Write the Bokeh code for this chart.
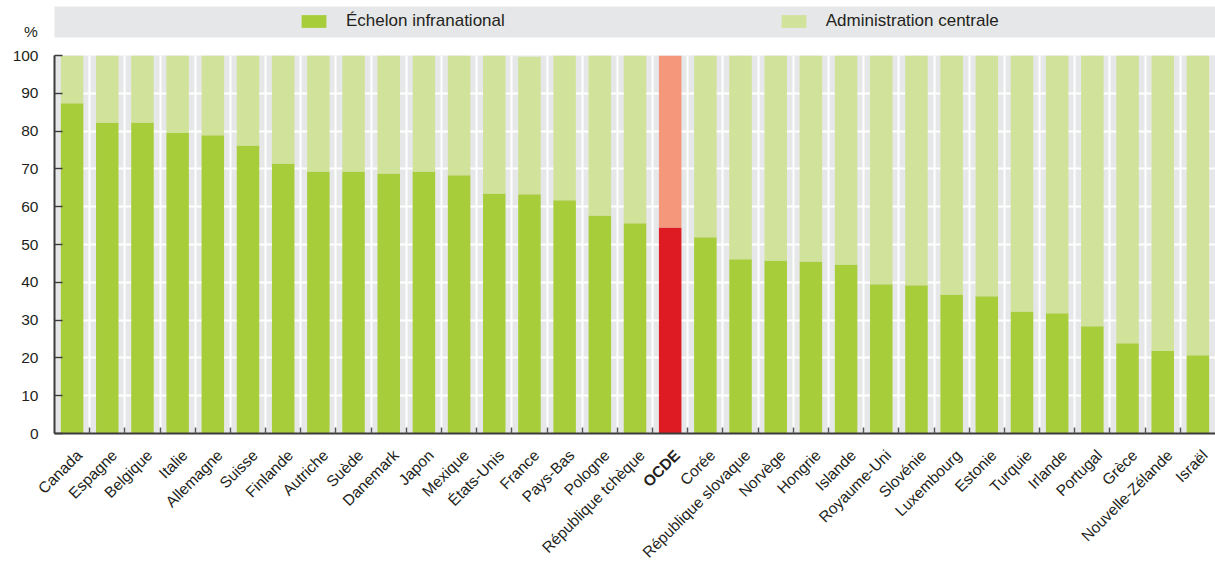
import numpy as np
from bokeh.plotting import figure
from bokeh.models import (Range1d, FixedTicker, ColumnDataSource, Legend, LegendItem)
from bokeh.layouts import column
from bokeh.core.properties import value
from bokeh.embed import file_html
from bokeh.resources import INLINE

# ---------------- data ----------------
categories = ["Canada", "Espagne", "Belgique", "Italie", "Allemagne", "Suisse",
              "Finlande", "Autriche", "Suède", "Danemark", "Japon", "Mexique",
              "États-Unis", "France", "Pays-Bas", "Pologne", "République tchèque",
              "OCDE", "Corée", "République slovaque", "Norvège", "Hongrie",
              "Islande", "Royaume-Uni", "Slovénie", "Luxembourg", "Estonie",
              "Turquie", "Irlande", "Portugal", "Grèce", "Nouvelle-Zélande", "Israël"]
infranational = [87.4, 82.3, 82.3, 79.6, 78.9, 76.2, 71.4, 69.3, 69.3, 68.8,
                 69.3, 68.3, 63.5, 63.3, 61.7, 57.7, 55.6, 54.5, 51.9, 46.1,
                 45.8, 45.5, 44.7, 39.5, 39.2, 36.8, 36.3, 32.3, 31.8, 28.4,
                 23.9, 21.8, 20.7]
centrale = [12.6, 17.7, 17.7, 20.4, 21.1, 23.8, 28.6, 30.7, 30.7, 31.2,
            30.7, 31.7, 36.5, 36.4, 38.3, 42.3, 44.4, 45.5, 48.1, 53.9,
            54.2, 54.5, 55.3, 60.5, 60.8, 63.2, 63.7, 67.7, 68.2, 71.6,
            76.1, 78.2, 79.3]
highlight = "OCDE"
legend_labels = ["Échelon infranational", "Administration centrale"]
y_ticks = [0, 10, 20, 30, 40, 50, 60, 70, 80, 90, 100]
y_unit = "%"

# ---------------- style / layout ----------------
FONT = "Liberation Sans"
TXT = "#231f20"
BG = "#e6e7e8"
GREEN = "#a8cd3a"
LGREEN = "#d1e39b"
RED = "#de1b23"
SALMON = "#f5977a"
AXIS = "#3c3c3c"

W = 1215
LEFT = 54          # frame left edge (px)
RIGHT_PAD = 0      # frame right padding (px)
H_TOP = 44         # legend band figure height
GAP = 10           # px between axis line and label strip
H_MAIN = 433 - H_TOP + GAP
H_LAB = 563 - H_TOP - H_MAIN

n = len(categories)
xs = np.arange(n) + 0.5
sub = np.array(infranational)
cen = np.array(centrale)
src = ColumnDataSource(dict(
    x=xs, cat=categories, sub=sub, top=sub + cen,
    c_sub=[RED if c == highlight else GREEN for c in categories],
    c_cen=[SALMON if c == highlight else LGREEN for c in categories],
))

# ---------------- main plot ----------------
p = figure(width=W, height=H_MAIN, x_range=Range1d(0, n), y_range=Range1d(0, 100),
           output_backend="svg", toolbar_location=None, frame_align=False,
           min_border_left=LEFT, min_border_right=RIGHT_PAD, min_border_top=11,
           min_border_bottom=GAP)
p.background_fill_color = BG
p.border_fill_color = "white"
p.outline_line_color = None

p.vbar(x="x", bottom=0, top="sub", width=0.64, fill_color="c_sub",
       line_color=None, source=src)
p.vbar(x="x", bottom="sub", top="top", width=0.64, fill_color="c_cen",
       line_color=None, source=src)

boundaries = list(range(1, n))
p.xgrid.ticker = FixedTicker(ticks=boundaries)
p.xgrid.grid_line_color = "white"
p.xgrid.grid_line_width = 2
p.ygrid.ticker = FixedTicker(ticks=y_ticks[1:-1])
p.ygrid.grid_line_color = "white"
p.ygrid.grid_line_width = 2

p.yaxis.ticker = FixedTicker(ticks=y_ticks)
p.yaxis.axis_line_color = AXIS
p.yaxis.axis_line_width = 2
p.yaxis.major_tick_in = 8
p.yaxis.major_tick_out = 0
p.yaxis.major_tick_line_color = AXIS
p.yaxis.major_tick_line_width = 1.5
p.yaxis.minor_tick_line_color = None
p.yaxis.major_label_standoff = 16
p.yaxis.major_label_text_font = FONT
p.yaxis.major_label_text_font_size = "15.5px"
p.yaxis.major_label_text_color = TXT

p.xaxis.ticker = FixedTicker(ticks=[], minor_ticks=boundaries)
p.xaxis.axis_line_color = AXIS
p.xaxis.axis_line_width = 2
p.xaxis.minor_tick_in = 6
p.xaxis.minor_tick_out = 0
p.xaxis.major_tick_out = 0
p.xaxis.major_tick_in = 0
p.xaxis.minor_tick_line_color = "#555555"
p.xaxis.minor_tick_line_width = 1.5
p.xaxis.major_tick_line_color = None
p.xaxis.major_label_standoff = 0
p.xaxis.major_label_text_font_size = "0px"

# ---------------- category label strip ----------------
scale = (W - LEFT - RIGHT_PAD) / n          # px per category
xf = figure(width=W, height=H_LAB,
            x_range=Range1d(-LEFT / scale, (W - LEFT) / scale),
            y_range=Range1d(-GAP - H_LAB, -GAP),
            output_backend="svg", toolbar_location=None, frame_align=False,
            x_axis_location=None, y_axis_location=None,
            min_border_left=0, min_border_right=0, min_border_top=0,
            min_border_bottom=0)
xf.outline_line_color = None
xf.grid.visible = False
lab_src = ColumnDataSource(dict(
    x=xs, y=[-19] * n, text=categories,
    style=["bold" if c == highlight else "normal" for c in categories]))
xf.text(x="x", y="y", text="text", source=lab_src, angle=np.pi / 4,
        text_align="right", text_baseline="middle", x_offset=7,
        text_font=value(FONT), text_font_size="15.5px",
        text_font_style="style", text_color=TXT)

# ---------------- legend band ----------------
lf = figure(width=W, height=H_TOP, x_range=Range1d(0, W), y_range=Range1d(0, H_TOP),
            output_backend="svg", toolbar_location=None, frame_align=False,
            x_axis_location=None, y_axis_location=None,
            min_border_left=0, min_border_right=0, min_border_top=0,
            min_border_bottom=0)
lf.outline_line_color = None
lf.grid.visible = False
lf.quad(left=LEFT, right=W, bottom=H_TOP - 37, top=H_TOP - 6,
        fill_color=BG, line_color=None)
# legend key renderers (single point kept outside the visible range)
r1 = lf.vbar(x=[-1000], top=[0], width=1, fill_color=GREEN, line_color=None)
r2 = lf.vbar(x=[-1000], top=[0], width=1, fill_color=LGREEN, line_color=None)
legend = Legend(items=[LegendItem(label=legend_labels[0], renderers=[r1]),
                       LegendItem(label=legend_labels[1], renderers=[r2])],
                location=(298, 13), orientation="horizontal", glyph_width=31,
                glyph_height=16, label_standoff=17, spacing=273, padding=0,
                margin=0, border_line_color=None, background_fill_alpha=0,
                label_text_font=FONT, label_text_font_size="17px",
                label_text_color=TXT)
lf.add_layout(legend)
lf.text(x=[30.5], y=[H_TOP - 30.5], text=[y_unit], text_align="center",
        text_baseline="middle", text_font=value(FONT), text_font_size="15.5px",
        text_color=TXT)

layout = column(lf, p, xf, spacing=0)
open("out.html", "w").write(file_html(layout, INLINE))
